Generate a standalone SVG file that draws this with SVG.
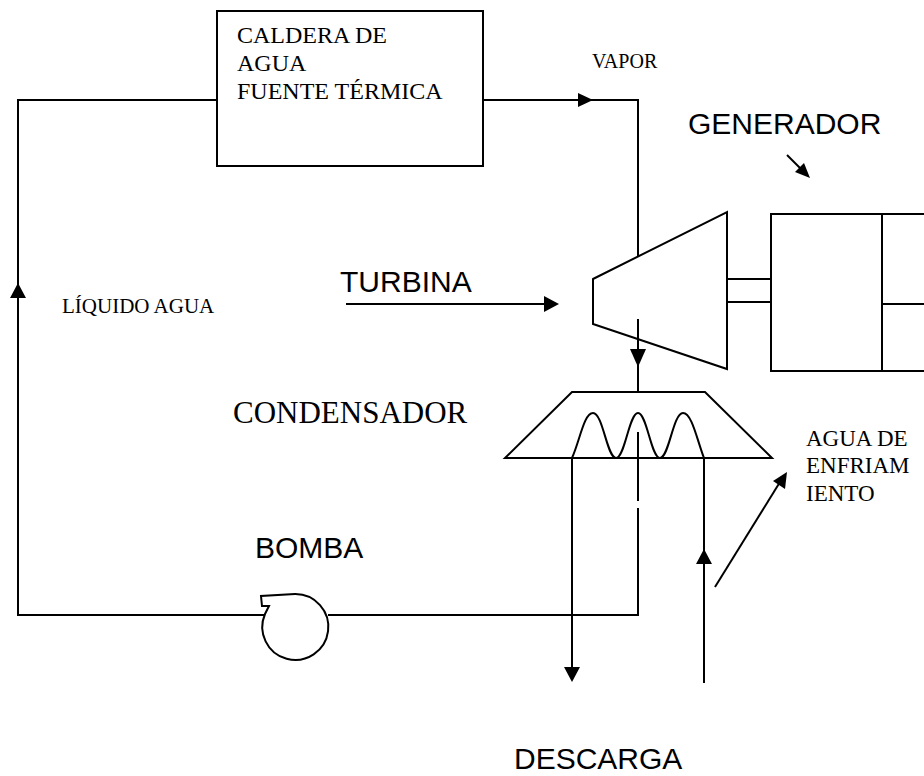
<svg xmlns="http://www.w3.org/2000/svg" width="924" height="776" viewBox="0 0 924 776">
<style>
.ln{fill:none;stroke:#000;stroke-width:2}
.sh{fill:#fff;stroke:#000;stroke-width:2}
.ah{fill:#000;stroke:none}
.serif{font-family:"Liberation Serif","Times New Roman",serif;fill:#000}
.sans{font-family:"Liberation Sans",Arial,sans-serif;fill:#000}
</style>
<rect width="924" height="776" fill="#fff"/>
<g id="connectors">
<polyline class="ln" points="217,100 18,100 18,615 264,615"/>
<polyline class="ln" points="483,100 638,100 638,257"/>
<polyline class="ln" points="328,615 638,615 638,508"/>
<line class="ln" x1="638" y1="501" x2="638" y2="432"/>
<line class="ln" x1="638" y1="319" x2="638" y2="392"/>
<line class="ln" x1="572" y1="458" x2="572" y2="670"/>
<line class="ln" x1="704" y1="458" x2="704" y2="683"/>
<line class="ln" x1="346" y1="304" x2="546" y2="304"/>
<line class="ln" x1="715" y1="587" x2="780" y2="482"/>
<line class="ln" x1="787" y1="155" x2="802" y2="170"/>
<polygon class="ah" points="578,93 593,100 578,107"/>
<polygon class="ah" points="10,298 18,283 26,298"/>
<polygon class="ah" points="630,349 646,349 638,367"/>
<polygon class="ah" points="564,667 580,667 572,682"/>
<polygon class="ah" points="696,564 704,549 712,564"/>
<polygon class="ah" points="544,296 559,304 544,312"/>
<polygon class="ah" points="787,472 785,489 773,481"/>
<polygon class="ah" points="810,178 795,172 804,163"/>
</g>
<g id="caldera">
<rect class="sh" x="217" y="11" width="266" height="155"/>
<text class="serif" font-size="24" x="237" y="43">CALDERA DE</text>
<text class="serif" font-size="24" x="237" y="71">AGUA</text>
<text class="serif" font-size="24" x="237" y="99">FUENTE TÉRMICA</text>
</g>
<g id="turbina">
<polygon class="sh" points="593,279 727,212 727,369 593,324"/>
<line class="ln" x1="638" y1="319" x2="638" y2="349"/>
</g>
<g id="eje">
<line class="ln" x1="727" y1="279" x2="771" y2="279"/>
<line class="ln" x1="727" y1="302" x2="771" y2="302"/>
</g>
<g id="generador">
<rect class="sh" x="771" y="214" width="160" height="157"/>
<line class="ln" x1="882" y1="214" x2="882" y2="371"/>
<line class="ln" x1="882" y1="304" x2="930" y2="304"/>
</g>
<g id="condensador">
<polygon class="sh" points="572,392 705,392 772,458 505,458"/>
<path class="ln" d="M572,458 C580,440 584,413 593,413 C603,413 607,458 616,458 C625,458 629,413 638,413 C647,413 651,458 660,458 C669,458 673,413 683,413 C692,413 697,440 704,458"/>
<line class="ln" x1="638" y1="432" x2="638" y2="458"/>
</g>
<g id="bomba">
<path class="sh" d="M265,614 A33,33 0 1 0 295,594 L261,596 L262,606 L269,606 Z"/>
</g>
<g id="labels">
<text class="serif" font-size="20" x="592" y="68">VAPOR</text>
<text class="sans" font-size="30" x="688" y="134">GENERADOR</text>
<text class="sans" font-size="30" x="340" y="292">TURBINA</text>
<text class="serif" font-size="21" x="62" y="313">LÍQUIDO AGUA</text>
<text class="serif" font-size="31" x="233" y="423">CONDENSADOR</text>
<text class="serif" font-size="23" x="806" y="446">AGUA DE</text>
<text class="serif" font-size="23" x="806" y="473">ENFRIAM</text>
<text class="serif" font-size="23" x="806" y="501">IENTO</text>
<text class="sans" font-size="30" x="255" y="558">BOMBA</text>
<text class="sans" font-size="30" x="514" y="769">DESCARGA</text>
</g>
</svg>
